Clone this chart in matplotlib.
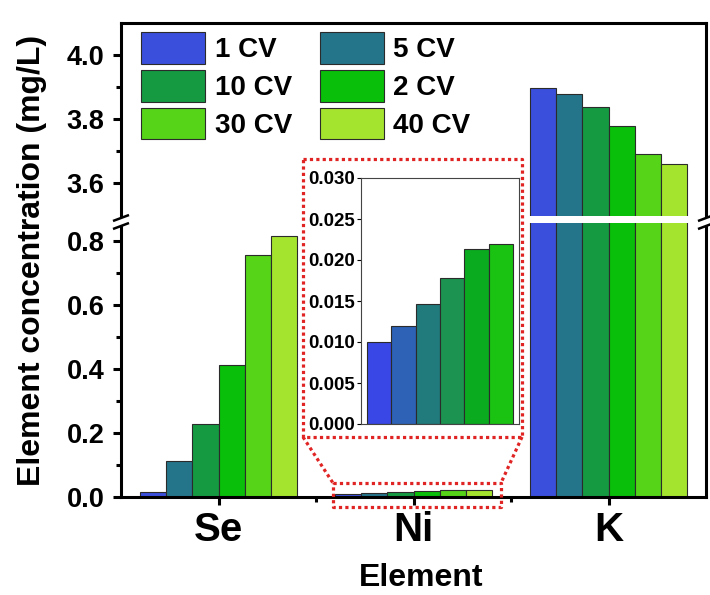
import matplotlib
matplotlib.use("Agg")
import matplotlib.pyplot as plt
import numpy as np
from matplotlib.lines import Line2D
from matplotlib.patches import Patch, Polygon

plt.rcParams["font.family"] = ["Liberation Sans", "DejaVu Sans"]
plt.rcParams["font.weight"] = "bold"

ELEMENTS = ["Se", "Ni", "K"]
SERIES = ["1 CV", "5 CV", "10 CV", "2 CV", "30 CV", "40 CV"]
SE_CONC = [0.015, 0.113, 0.229, 0.411, 0.756, 0.815]
NI_CONC = [0.0100, 0.0120, 0.0146, 0.0178, 0.0213, 0.0220]
K_CONC = [3.895, 3.877, 3.836, 3.776, 3.688, 3.657]

COLORS = ["#3a4fdc", "#25758a", "#159a42", "#0abf0a", "#55d418", "#a5e42e"]
INSET_COLORS = ["#3847e6", "#2d62b6", "#217a7c", "#1c9350", "#0aab1f", "#1ac212"]

W, H = 710, 595
EDGE = "#2b2b2b"
RED = "#e02424"
SPINE_LW = 2.2


def fbox(x0, y0, x1, y1):
    # pixel box (top-left origin) -> figure fraction rect
    return [x0 / W, 1 - y1 / H, (x1 - x0) / W, (y1 - y0) / H]


def fpt(x, y):
    return x / W, 1 - y / H


def fig_line(fig, xs, ys, **kw):
    fx = [x / W for x in xs]
    fy = [1 - y / H for y in ys]
    fig.add_artist(Line2D(fx, fy, transform=fig.transFigure, **kw))


fig = plt.figure(figsize=(W / 100, H / 100), dpi=100)
ax_top = fig.add_axes(fbox(121, 23, 706, 216))
ax_bot = fig.add_axes(fbox(121, 223, 706, 497))

conc = np.array([SE_CONC, NI_CONC, K_CONC])
x = np.arange(len(ELEMENTS))
bar_w = 0.134
offsets = (np.arange(len(SERIES)) - 2.5) * bar_w

for ax in (ax_top, ax_bot):
    for i, name in enumerate(SERIES):
        ax.bar(x + offsets[i], conc[:, i], width=bar_w, color=COLORS[i],
               edgecolor=EDGE, linewidth=0.8, label=name)
    ax.set_xlim(-0.5, 2.5)
    for s in ax.spines.values():
        s.set_linewidth(SPINE_LW)
    ax.tick_params(axis="y", direction="out", width=SPINE_LW, length=6, labelsize=19.5, pad=6)
    ax.tick_params(axis="y", which="minor", direction="out", width=SPINE_LW, length=3.5)

ax_top.set_ylim(3.495, 4.1)
ax_top.set_yticks([3.6, 3.8, 4.0])
ax_top.set_yticks([3.7, 3.9], minor=True)
ax_top.set_yticklabels(["3.6", "3.8", "4.0"])
ax_top.spines["bottom"].set_visible(False)
ax_top.set_xticks([])

ax_bot.set_ylim(0, 0.855)
ax_bot.set_yticks([0.0, 0.2, 0.4, 0.6, 0.8])
ax_bot.set_yticks([0.1, 0.3, 0.5, 0.7], minor=True)
ax_bot.set_yticklabels(["0.0", "0.2", "0.4", "0.6", "0.8"])
ax_bot.spines["top"].set_visible(False)
ax_bot.set_xticks(x)
ax_bot.set_xticklabels(ELEMENTS)
ax_bot.set_xticks([0.5, 1.5], minor=True)
ax_bot.tick_params(axis="x", direction="out", width=SPINE_LW, length=6, labelsize=29, pad=4)
ax_bot.tick_params(axis="x", which="minor", direction="out", width=SPINE_LW, length=3.5)

# axis break marks on both spines
for bx in (121, 706):
    fig.add_artist(Polygon([fpt(bx - 8, 221), fpt(bx + 8, 215), fpt(bx + 8, 223), fpt(bx - 8, 229)],
                           closed=True, transform=fig.transFigure, facecolor="white", edgecolor="none"))
    fig_line(fig, [bx - 8, bx + 8], [221, 215], color="k", lw=1.8, solid_capstyle="butt")
    fig_line(fig, [bx - 8, bx + 8], [229, 223], color="k", lw=1.8, solid_capstyle="butt")

# legend (row-major order like the original)
handles = [Patch(facecolor=c, edgecolor=EDGE, linewidth=0.8) for c in COLORS]
order = [0, 2, 4, 1, 3, 5]
ax_top.legend([handles[i] for i in order], [SERIES[i] for i in order], ncol=2,
              loc="upper left", bbox_to_anchor=fpt(141, 32), bbox_transform=fig.transFigure,
              frameon=False, prop={"size": 20, "weight": "bold"}, handlelength=2.3,
              handleheight=1.38, handletextpad=0.35, labelspacing=0.22, columnspacing=1.0,
              borderpad=0, borderaxespad=0)

fig.text(32 / W, 1 - 260 / H, "Element concentration (mg/L)", rotation=90,
         ha="center", va="center", fontsize=23, fontweight="bold")
fig.text(421 / W, 1 - 578 / H, "Element", ha="center", va="center", fontsize=23, fontweight="bold")

# zoom-in inset for Ni
ax_in = fig.add_axes(fbox(361, 178, 519, 424))
ax_in.bar(np.arange(len(SERIES)), NI_CONC, width=1.0, color=INSET_COLORS,
          edgecolor=EDGE, linewidth=0.8)
ax_in.set_xlim(-0.73, 5.73)
ax_in.set_ylim(0, 0.03)
ax_in.set_yticks(np.arange(0, 0.0301, 0.005))
ax_in.set_yticklabels([f"{v:.3f}" for v in np.arange(0, 0.0301, 0.005)])
ax_in.set_xticks([])
for s in ax_in.spines.values():
    s.set_linewidth(0.8)
    s.set_color("#444444")
ax_in.tick_params(axis="y", direction="out", length=3, width=0.8, labelsize=13.5, pad=1)

# red dotted zoom frames
dot = dict(color=RED, lw=2.3, linestyle=(0, (1, 1)))
fig_line(fig, [303, 522, 522, 303, 303], [159, 159, 437, 437, 159], **dot)
fig_line(fig, [333, 501, 501, 333, 333], [483, 483, 507, 507, 483], **dot)
fig_line(fig, [303, 333], [437, 483], **dot)
fig_line(fig, [522, 501], [437, 483], **dot)

fig.savefig("out.png", dpi=100)
